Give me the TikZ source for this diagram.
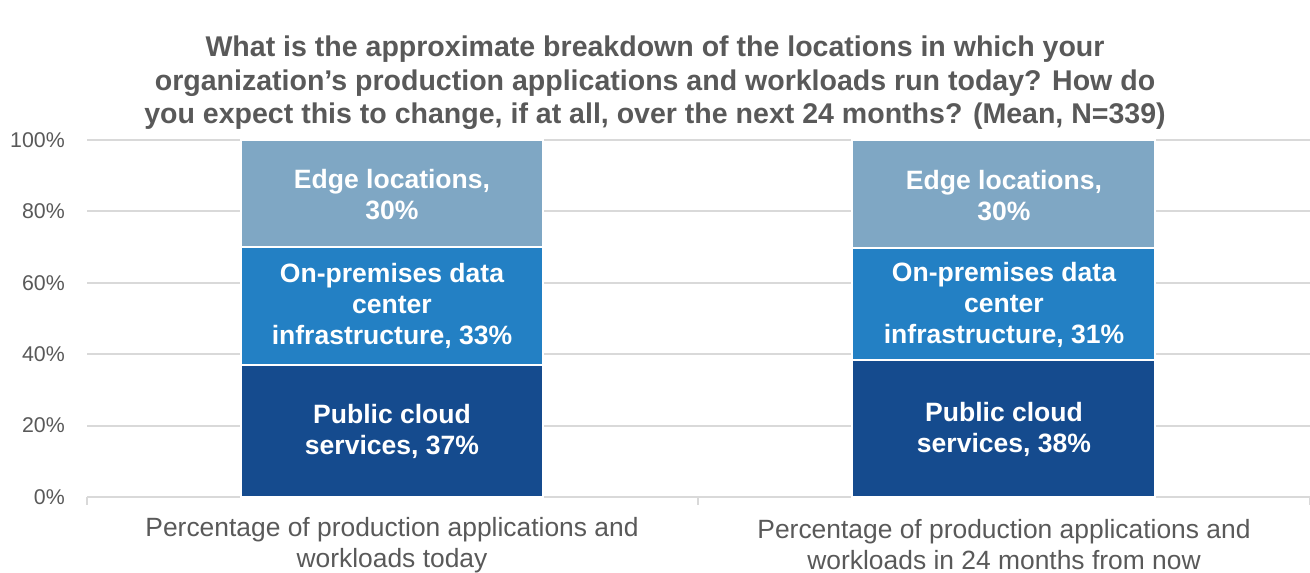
\documentclass[tikz,border=0pt]{standalone}
\usepackage{fontspec}
\setmainfont{Liberation Sans}
\definecolor{edgec}{HTML}{7FA7C4}
\definecolor{onpc}{HTML}{2380C4}
\definecolor{pubc}{HTML}{154B8E}
\definecolor{gridc}{HTML}{D9D9D9}
\definecolor{txtc}{HTML}{595959}
\begin{document}
\begin{tikzpicture}[x=0.75pt,y=-0.75pt,
  gridline/.style={draw=gridc,line width=1.5pt},
  seg/.style={draw=white,line width=2.2pt},
  barlabel/.style={text=white,font=\fontsize{19.9}{23.3}\selectfont\bfseries,align=center,inner sep=0pt},
  ticklabel/.style={text=txtc,font=\fontsize{16}{18}\selectfont,anchor=east,inner sep=0pt},
  catlabel/.style={text=txtc,font=\fontsize{19.8}{23.3}\selectfont,align=center,inner sep=0pt},
  titlestyle/.style={text=txtc,font=\fontsize{21.4}{25.2}\selectfont\bfseries,align=center,inner sep=0pt}]
\useasboundingbox (0,0) rectangle (1310,573);
% grid
\foreach \v in {20,40,60,80,100}{
  \draw[gridline] (87,{497-3.57*\v}) -- (1310,{497-3.57*\v});
}
\draw[gridline] (87,497) coordinate (ax0) -- (1310,497) coordinate (ax1);
\draw[gridline] (87,497) -- (87,505);
\draw[gridline] (698,497) -- (698,505);
\draw[gridline] (1310,497) -- (1310,505);
% tick labels
\foreach \v in {0,20,40,60,80,100}{
  \node[ticklabel] (t\v) at (65,{497-3.57*\v}) {\v\%};
}
% bar 1
\fill[pubc] (241,365) rectangle (543,497);
\fill[onpc] (241,247) rectangle (543,365);
\fill[edgec] (241,140) rectangle (543,247);
\draw[seg] (241,365) rectangle (543,497);
\draw[seg] (241,247) rectangle (543,365);
\draw[seg] (241,140) rectangle (543,247);
% bar 2
\fill[pubc] (852,360) rectangle (1155,497);
\fill[onpc] (852,248) rectangle (1155,360);
\fill[edgec] (852,140) rectangle (1155,248);
\draw[seg] (852,360) rectangle (1155,497);
\draw[seg] (852,248) rectangle (1155,360);
\draw[seg] (852,140) rectangle (1155,248);
% bar labels
\node[barlabel] (e1) at (392,195) {Edge locations,\\30\%};
\node[barlabel] (o1) at (392,306) {On-premises data\\center\\infrastructure, 33\%};
\node[barlabel] (p1) at (392,431) {Public cloud\\services, 37\%};
\node[barlabel] (e2) at (1004,196) {Edge locations,\\30\%};
\node[barlabel] (o2) at (1004,305) {On-premises data\\center\\infrastructure, 31\%};
\node[barlabel] (p2) at (1004,429) {Public cloud\\services, 38\%};
% category labels
\node[catlabel] (c1) at (392,545) {Percentage of production applications and\\workloads today};
\node[catlabel] (c2) at (1004,545) {Percentage of production applications and\\workloads in 24 months from now};
% title
\node[titlestyle] (title) at (655,83) {What is the approximate breakdown of the locations in which your\\organization’s production applications and workloads run today? How do\\you expect this to change, if at all, over the next 24 months? (Mean, N=339)};
\end{tikzpicture}
\end{document}
